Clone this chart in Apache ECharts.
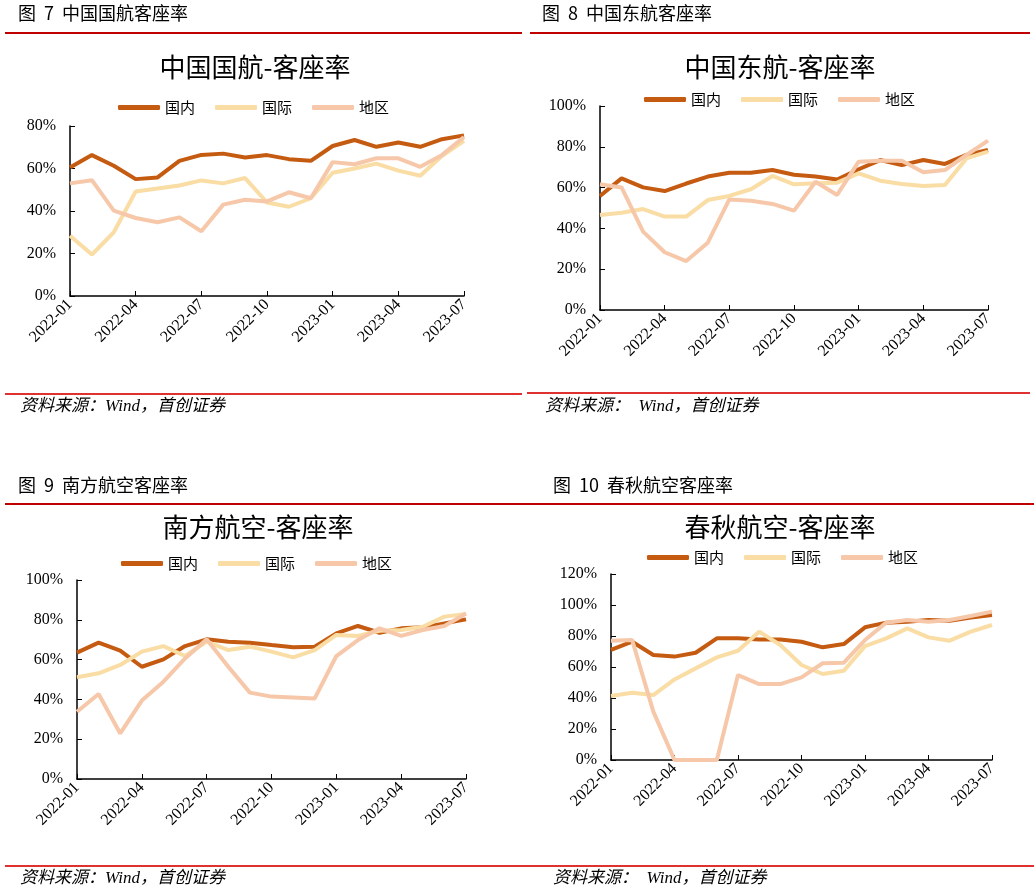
<!DOCTYPE html>
<html><head><meta charset="utf-8">
<script src="https://cdn.jsdelivr.net/npm/echarts@6/dist/echarts.min.js"></script>
<style>html,body{margin:0;padding:0;background:#fff}#c{width:1034px;height:893px}</style>
</head><body><div id="c"></div>
<script>
const categories = ["2022-01","2022-02","2022-03","2022-04","2022-05","2022-06","2022-07","2022-08","2022-09","2022-10","2022-11","2022-12","2023-01","2023-02","2023-03","2023-04","2023-05","2023-06","2023-07"];
const seriesNames = ["国内","国际","地区"];
// 中国国航
const caDomestic = [60.5,66.3,61.3,55.0,55.8,63.6,66.4,67.0,65.2,66.3,64.4,63.6,70.6,73.4,70.2,72.2,70.2,73.8,75.6];
const caIntl     = [28.4,19.5,30.0,49.2,50.6,52.0,54.4,53.0,55.5,44.0,42.0,46.0,58.0,60.0,62.3,59.0,56.6,66.0,73.0];
const caRegion   = [53.0,54.5,40.2,36.7,34.7,37.0,30.5,43.0,45.3,44.5,48.8,46.0,63.0,62.0,64.8,64.8,60.8,66.4,74.8];
// 中国东航
const muDomestic = [55.9,64.5,60.1,58.3,62.0,65.4,67.3,67.3,68.6,66.3,65.4,64.0,69.0,73.5,71.0,73.5,71.6,76.0,78.4];
const muIntl     = [46.6,47.7,49.5,45.8,45.8,53.9,55.9,59.2,65.7,61.6,62.1,62.4,67.0,63.4,61.8,60.8,61.3,74.3,77.6];
const muRegion   = [61.6,60.1,38.4,28.3,24.0,33.0,54.2,53.6,52.0,48.7,62.9,56.4,72.7,73.2,73.2,67.5,68.6,76.0,83.0];
// 南方航空
const czDomestic = [63.5,68.5,64.5,56.4,60.1,66.8,70.2,69.0,68.5,67.3,66.2,66.5,73.2,76.9,73.5,75.7,76.2,78.2,80.2];
const czIntl     = [51.1,53.1,57.3,64.0,66.8,61.8,69.0,64.8,66.5,64.0,61.1,64.8,72.4,71.9,74.5,74.9,76.5,81.6,82.9];
const czRegion   = [33.8,42.7,22.9,39.4,48.9,60.6,70.2,56.4,43.4,41.4,41.0,40.5,61.8,69.8,75.7,71.9,74.9,76.9,83.2];
// 春秋航空
const sqDomestic = [71.0,76.3,67.7,66.7,69.2,78.5,78.5,77.8,77.8,76.3,72.7,74.8,85.6,88.6,89.2,90.3,89.9,92.0,93.5];
const sqIntl     = [41.3,43.4,41.9,52.0,59.1,66.2,70.5,82.8,74.2,61.3,55.5,57.6,73.5,78.5,84.9,79.1,77.0,82.8,87.1];
const sqRegion   = [77.0,77.4,31.2,0,0,0,54.8,49.0,49.0,53.3,62.4,62.8,77.4,88.6,90.3,89.2,90.3,92.9,95.7];

const figHeaders = ["图  7  中国国航客座率","图  8  中国东航客座率","图  9  南方航空客座率","图  10  春秋航空客座率"];
const chartTitles = ["中国国航-客座率","中国东航-客座率","南方航空-客座率","春秋航空-客座率"];
const sourceTexts = ["资料来源：Wind，首创证券","资料来源：  Wind，首创证券","资料来源：Wind，首创证券","资料来源：  Wind，首创证券"];
const yMax = [80,100,100,120];

const panels = [
  {data:[caDomestic,caIntl,caRegion], grid:{left:70,top:126,width:394,height:170}, titleX:255,titleY:67, legendX:113,legendY:95, headX:18,headY:15, redTop:[5,33,522], redBot:[5,394,522], srcX:20,srcY:408},
  {data:[muDomestic,muIntl,muRegion], grid:{left:600,top:106,width:388,height:204}, titleX:780,titleY:67, legendX:639,legendY:87, headX:542,headY:15, redTop:[530,33,1030], redBot:[527,393,1030], srcX:545,srcY:408},
  {data:[czDomestic,czIntl,czRegion], grid:{left:77,top:580,width:389,height:199}, titleX:258,titleY:527, legendX:116,legendY:551, headX:18,headY:487, redTop:[5,504,522], redBot:[5,866,522], srcX:20,srcY:880},
  {data:[sqDomestic,sqIntl,sqRegion], grid:{left:611,top:574,width:381,height:186}, titleX:780,titleY:527, legendX:642,legendY:545, headX:553,headY:487, redTop:[522,504,1034], redBot:[522,866,1034], srcX:553,srcY:880}
];
const colors = ["#C55A11","#F9DDA4","#F6C8A9"];
const serif = "'Liberation Serif','Times New Roman',serif";
const cjk = "'Noto Sans CJK SC',sans-serif";

const option = {animation:false, backgroundColor:'#fff', grid:[], xAxis:[], yAxis:[], series:[], legend:[], graphic:[]};
panels.forEach((p,i)=>{
  option.grid.push(Object.assign({containLabel:false}, p.grid));
  option.xAxis.push({type:'category', gridIndex:i, data:categories, boundaryGap:false,
    axisLine:{lineStyle:{color:'#000',width:1.5}},
    axisTick:{inside:true, length:5, interval:2, lineStyle:{color:'#000'}},
    axisLabel:{interval:2, rotate:45, color:'#000', fontFamily:serif, fontSize:16, margin:6},
    splitLine:{show:false}});
  option.yAxis.push({type:'value', gridIndex:i, min:0, max:yMax[i], interval:20,
    axisLine:{show:true, lineStyle:{color:'#000',width:1.5}},
    axisTick:{show:true, inside:true, length:5, lineStyle:{color:'#000'}},
    axisLabel:{formatter:'{value}%', color:'#000', fontFamily:serif, fontSize:16, margin:14},
    splitLine:{show:false}});
  p.data.forEach((d,k)=>{
    option.series.push({type:'line', name:seriesNames[k], xAxisIndex:i, yAxisIndex:i, data:d,
      symbol:'none', lineStyle:{width:4, color:colors[k]}, itemStyle:{color:colors[k]}});
  });
  option.legend.push({left:p.legendX, top:p.legendY, data:seriesNames, icon:'roundRect', itemWidth:42, itemHeight:5, itemGap:20,
    textStyle:{fontFamily:cjk, fontSize:15, color:'#000'}});
  option.graphic.push({type:'text', left:p.headX, top:p.headY-11, style:{text:figHeaders[i], font:"18px "+cjk, fill:'#000'}});
  option.graphic.push({type:'text', x:p.titleX, y:p.titleY, style:{text:chartTitles[i], font:"26px "+cjk, fill:'#000', textAlign:'center', textVerticalAlign:'middle'}});
  option.graphic.push({type:'line', shape:{x1:p.redTop[0],y1:p.redTop[1],x2:p.redTop[2],y2:p.redTop[1]}, style:{stroke:'#C00000', lineWidth:2}});
  option.graphic.push({type:'line', shape:{x1:p.redBot[0],y1:p.redBot[1],x2:p.redBot[2],y2:p.redBot[1]}, style:{stroke:'#E03030', lineWidth:2}});
  option.graphic.push({type:'text', left:p.srcX, top:p.srcY-10, style:{text:sourceTexts[i], font:"italic 17px "+serif+","+cjk, fill:'#000'}});
});
const chart = echarts.init(document.getElementById('c'), null, {renderer:'canvas'});
chart.setOption(option);
</script></body></html>
